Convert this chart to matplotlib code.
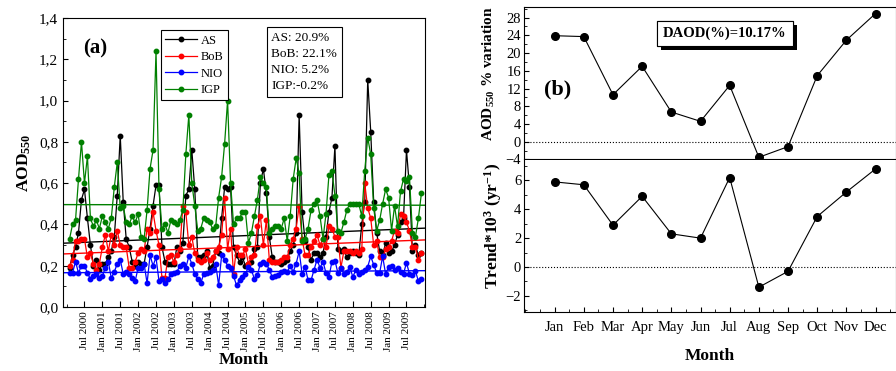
import numpy as np
import matplotlib
matplotlib.use("Agg")
import matplotlib.pyplot as plt
import matplotlib.patheffects as pe
from matplotlib.ticker import MultipleLocator, FuncFormatter, FixedLocator

plt.rcParams['font.family'] = ['Liberation Serif', 'DejaVu Serif']
plt.rcParams['mathtext.fontset'] = 'custom'
plt.rcParams['mathtext.rm'] = 'Liberation Serif'
plt.rcParams['mathtext.bf'] = 'Liberation Serif:bold'
plt.rcParams['mathtext.default'] = 'bf'

# monthly AOD550, Feb 2000 - Dec 2009 (month index 1..119, 0 = Jan 2000)
aod_as = [0.19, 0.25, 0.29, 0.36, 0.52, 0.57, 0.43, 0.30, 0.20, 0.23, 0.18, 0.21,
          0.21, 0.24, 0.27, 0.34, 0.54, 0.83, 0.51, 0.33, 0.29, 0.22, 0.20, 0.22,
          0.21, 0.21, 0.29, 0.38, 0.49, 0.59, 0.59, 0.29, 0.22, 0.21, 0.21, 0.21,
          0.29, 0.27, 0.31, 0.54, 0.57, 0.76, 0.57, 0.24, 0.24, 0.25, 0.27, 0.19,
          0.20, 0.27, 0.26, 0.43, 0.58, 0.57, 0.58, 0.29, 0.25, 0.22, 0.24, 0.20,
          0.21, 0.22, 0.28, 0.29, 0.60, 0.67, 0.55, 0.34, 0.24, 0.22, 0.22, 0.21,
          0.22, 0.23, 0.27, 0.30, 0.36, 0.93, 0.46, 0.32, 0.29, 0.23, 0.26, 0.26,
          0.24, 0.26, 0.34, 0.46, 0.53, 0.78, 0.28, 0.27, 0.28, 0.24, 0.26, 0.27,
          0.26, 0.25, 0.40, 0.51, 1.10, 0.85, 0.51, 0.36, 0.27, 0.25, 0.31, 0.26, 0.27,
          0.30, 0.35, 0.41, 0.43, 0.76, 0.58, 0.27, 0.30, 0.25, 0.26]
aod_bob = [0.20, 0.23, 0.32, 0.32, 0.33, 0.33, 0.24, 0.26, 0.21, 0.18, 0.21, 0.29,
           0.35, 0.27, 0.35, 0.30, 0.37, 0.30, 0.29, 0.29, 0.19, 0.19, 0.22, 0.26,
           0.28, 0.27, 0.38, 0.36, 0.46, 0.37, 0.30, 0.14, 0.14, 0.24, 0.25, 0.22,
           0.25, 0.28, 0.49, 0.46, 0.30, 0.34, 0.26, 0.23, 0.22, 0.23, 0.26, 0.23,
           0.24, 0.27, 0.29, 0.35, 0.53, 0.28, 0.38, 0.16, 0.29, 0.25, 0.25, 0.28,
           0.21, 0.24, 0.25, 0.39, 0.44, 0.30, 0.42, 0.23, 0.22, 0.22, 0.22, 0.23,
           0.24, 0.24, 0.30, 0.33, 0.38, 0.49, 0.33, 0.25, 0.25, 0.29, 0.32, 0.35,
           0.30, 0.33, 0.29, 0.39, 0.38, 0.34, 0.34, 0.19, 0.27, 0.27, 0.27, 0.26,
           0.27, 0.26, 0.28, 0.60, 0.48, 0.43, 0.30, 0.32, 0.24, 0.24, 0.28, 0.29, 0.32,
           0.37, 0.36, 0.45, 0.44, 0.41, 0.37, 0.29, 0.29, 0.23, 0.26]
aod_nio = [0.165, 0.165, 0.22, 0.165, 0.20, 0.20, 0.165, 0.135, 0.15, 0.16, 0.14, 0.15,
           0.19, 0.22, 0.14, 0.17, 0.21, 0.23, 0.16, 0.17, 0.16, 0.14, 0.125, 0.19,
           0.19, 0.21, 0.115, 0.25, 0.20, 0.24, 0.125, 0.135, 0.115, 0.135, 0.16, 0.165,
           0.17, 0.20, 0.21, 0.19, 0.245, 0.21, 0.16, 0.135, 0.115, 0.16, 0.165, 0.17,
           0.18, 0.21, 0.105, 0.25, 0.23, 0.20, 0.19, 0.15, 0.105, 0.13, 0.145, 0.16,
           0.195, 0.18, 0.135, 0.155, 0.21, 0.22, 0.21, 0.18, 0.145, 0.15, 0.155, 0.17,
           0.175, 0.17, 0.20, 0.17, 0.21, 0.27, 0.16, 0.195, 0.13, 0.13, 0.18, 0.23,
           0.19, 0.22, 0.165, 0.145, 0.22, 0.225, 0.165, 0.19, 0.16, 0.17, 0.195, 0.145,
           0.18, 0.16, 0.17, 0.18, 0.195, 0.245, 0.205, 0.165, 0.165, 0.245, 0.16, 0.195, 0.20,
           0.18, 0.19, 0.17, 0.16, 0.215, 0.16, 0.155, 0.175, 0.125, 0.135]
aod_igp = [0.33, 0.40, 0.42, 0.62, 0.80, 0.60, 0.73, 0.43, 0.39, 0.42, 0.38, 0.44,
           0.41, 0.38, 0.43, 0.58, 0.70, 0.48, 0.49, 0.41, 0.40, 0.44, 0.41, 0.45,
           0.34, 0.33, 0.47, 0.67, 0.76, 1.24, 0.57, 0.38, 0.40, 0.36, 0.42, 0.41,
           0.40, 0.42, 0.47, 0.74, 0.93, 0.60, 0.49, 0.37, 0.38, 0.43, 0.42, 0.41,
           0.38, 0.39, 0.53, 0.63, 0.79, 1.00, 0.60, 0.40, 0.43, 0.43, 0.46, 0.46,
           0.31, 0.36, 0.44, 0.52, 0.63, 0.60, 0.58, 0.36, 0.38, 0.39, 0.39, 0.38,
           0.43, 0.32, 0.44, 0.62, 0.72, 0.65, 0.32, 0.33, 0.38, 0.47, 0.50, 0.52,
           0.44, 0.33, 0.45, 0.64, 0.66, 0.54, 0.37, 0.36, 0.41, 0.47, 0.50, 0.50,
           0.50, 0.50, 0.44, 0.66, 0.82, 0.74, 0.48, 0.37, 0.42, 0.50, 0.57, 0.53, 0.37,
           0.49, 0.39, 0.56, 0.62, 0.61, 0.63, 0.36, 0.34, 0.43, 0.55]
regions = ['AS', 'BoB', 'NIO', 'IGP']
colors = ['black', 'red', 'blue', 'green']
# linear trend values at left and right edge of the axis
trend_start = [0.309, 0.257, 0.166, 0.496]
trend_end = [0.382, 0.325, 0.176, 0.493]
change_text = ['AS: 20.9%', 'BoB: 22.1%', 'NIO: 5.2%', 'IGP:-0.2%']
tick_labels = []
for yr in range(2000, 2010):
    tick_labels += ['Jul %d' % yr, 'Jan %d' % (yr + 1)]
tick_labels = tick_labels[:-1]

# panel b
months = ['Jan', 'Feb', 'Mar', 'Apr', 'May', 'Jun', 'Jul', 'Aug', 'Sep', 'Oct', 'Nov', 'Dec']
variation = [23.9, 23.7, 10.6, 17.0, 6.7, 4.6, 12.7, -3.5, -1.1, 14.9, 22.9, 28.9]
trend = [5.9, 5.7, 2.9, 4.9, 2.3, 2.0, 6.2, -1.4, -0.3, 3.5, 5.2, 6.8]

fig = plt.figure(figsize=(8.96, 3.71), dpi=100)

#Panel (a)
ax = fig.add_axes([0.0703, 0.1725, 0.404, 0.779])
x = np.arange(1, len(aod_as) + 1)
xlim = (-1.2, 120.2)
for data, c, name, t0, t1 in zip([aod_as, aod_bob, aod_nio, aod_igp], colors, regions, trend_start, trend_end):
    ax.plot(x, data, '-o', color=c, lw=0.9, ms=3.2, label=name)
    ax.plot(xlim, [t0, t1], '-', color=c, lw=1.0)
ax.set_xlim(xlim)
ax.set_ylim(0, 1.4)
ax.yaxis.set_major_locator(MultipleLocator(0.2))
ax.yaxis.set_minor_locator(MultipleLocator(0.1))
ax.yaxis.set_major_formatter(FuncFormatter(lambda v, p: ('%.1f' % v).replace('.', ',')))
ax.xaxis.set_major_locator(FixedLocator(np.arange(6, 115, 6)))
ax.set_xticklabels(tick_labels, rotation=90, fontsize=8)
ax.xaxis.set_minor_locator(FixedLocator([0, 120]))
ax.tick_params(direction='in', which='both', labelsize=11)
ax.tick_params(axis='x', labelsize=8, length=4, pad=3)
ax.tick_params(which='minor', length=2.5)
ax.set_xlabel('Month', fontsize=12.5, fontweight='bold', labelpad=1)
ax.set_ylabel('AOD$_{550}$', fontsize=12.5, fontweight='bold', labelpad=4)
ax.text(0.088, 0.895, '(a)', transform=ax.transAxes, fontsize=15, fontweight='bold',
        ha='center', va='center')
leg = ax.legend(loc='upper left', bbox_to_anchor=(0.271, 0.957), borderaxespad=0,
                fontsize=9, handlelength=2.5, labelspacing=0.35, handletextpad=0.3,
                borderpad=0.35, fancybox=False, framealpha=1, numpoints=1)
leg.get_frame().set_edgecolor('black')
leg.get_frame().set_linewidth(0.8)
ax.text(0.575, 0.952, '\n'.join(change_text), transform=ax.transAxes, fontsize=9.5,
        va='top', ha='left', linespacing=1.45,
        bbox=dict(boxstyle='square,pad=0.35', fc='white', ec='black', lw=0.8))

#Panel (b) top
ax1 = fig.add_axes([0.5848, 0.5701, 0.4152, 0.4102])
mx = np.arange(1, 13)
ax1.plot(mx, variation, '-o', color='black', lw=0.8, ms=5.5)
ax1.axhline(0, color='black', ls=':', lw=0.8)
ax1.set_xlim(-0.05, 12.7)
ax1.set_ylim(-4, 30.3)
ax1.set_yticks(np.arange(-4, 29, 4))
ax1.yaxis.set_minor_locator(MultipleLocator(2))
ax1.set_xticks([])
ax1.tick_params(direction='in', which='both', labelsize=10.5, pad=2)
ax1.tick_params(which='minor', length=2.5)
ax1.text(0.09, 0.46, '(b)', transform=ax1.transAxes, fontsize=16, fontweight='bold',
         ha='center', va='center')
t = ax1.text(0.54, 0.83, 'DAOD(%)=10.17%', transform=ax1.transAxes, fontsize=10.5,
             fontweight='bold', ha='center', va='center',
             bbox=dict(boxstyle='square,pad=0.4', fc='white', ec='black', lw=0.8))
t.get_bbox_patch().set_path_effects([pe.withSimplePatchShadow(offset=(3, -3), shadow_rgbFace='black', alpha=1), pe.Normal()])

#Panel (b) bottom
ax2 = fig.add_axes([0.5848, 0.1598, 0.4152, 0.4102])
ax2.plot(mx, trend, '-o', color='black', lw=0.8, ms=5.5)
ax2.axhline(0, color='black', ls=':', lw=0.8)
ax2.set_xlim(-0.05, 12.7)
ax2.set_ylim(-3.1, 7.45)
ax2.set_yticks([-2, 0, 2, 4, 6])
ax2.yaxis.set_minor_locator(MultipleLocator(1))
ax2.set_xticks(mx)
ax2.set_xticklabels(months)
ax2.xaxis.set_minor_locator(MultipleLocator(0.5))
ax2.tick_params(direction='in', which='both', labelsize=10.5, pad=2)
ax2.tick_params(axis='x', pad=7)
ax2.tick_params(which='minor', length=2.5)
ax2.spines['top'].set_visible(False)
ax2.set_xlabel('Month', fontsize=12.5, fontweight='bold', labelpad=10)

fig.text(0.546, 0.80, 'AOD$_{550}$ % variation', rotation=90, fontsize=11, fontweight='bold',
         ha='center', va='center')
fig.text(0.550, 0.39, 'Trend*10$^{3}$ (yr$^{-1}$)', rotation=90, fontsize=12.5, fontweight='bold',
         ha='center', va='center')

fig.savefig('out.png', dpi=100)
